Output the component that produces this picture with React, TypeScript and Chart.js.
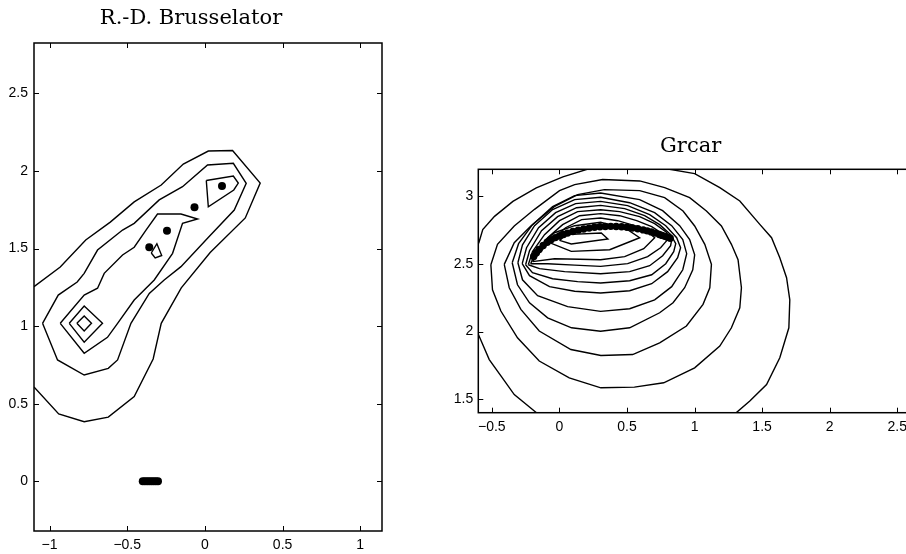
import React, { useEffect, useRef } from 'react';
import { Chart, registerables } from 'chart.js';

Chart.register(...registerables);

type P = [number, number];

// ---------- Left panel: R.-D. Brusselator ----------
const BR_X_TICKS = [-1, -0.5, 0, 0.5, 1];
const BR_Y_TICKS = [0, 0.5, 1, 1.5, 2, 2.5];

const BR_A: P[] = [
  [-1.1, 1.254], [-0.931, 1.381], [-0.767, 1.555], [-0.609, 1.67], [-0.455, 1.8],
  [-0.281, 1.909], [-0.139, 2.044], [0.022, 2.128], [0.178, 2.131], [0.356, 1.922],
  [0.26, 1.697], [0.034, 1.474], [-0.152, 1.246], [-0.281, 1.018], [-0.333, 0.788],
  [-0.455, 0.546], [-0.622, 0.414], [-0.777, 0.384], [-0.941, 0.434], [-1.1, 0.608],
];
const BR_B: P[] = [
  [-1.045, 1.018], [-0.944, 1.2], [-0.822, 1.284], [-0.777, 1.34], [-0.691, 1.49],
  [-0.53, 1.619], [-0.455, 1.662], [-0.294, 1.813], [-0.144, 1.898], [0.017, 2.038],
  [0.183, 2.049], [0.266, 1.92], [0.189, 1.748], [0.017, 1.566], [-0.154, 1.383],
  [-0.262, 1.297], [-0.358, 1.211], [-0.476, 1.018], [-0.562, 0.782], [-0.622, 0.728],
  [-0.777, 0.685], [-0.9485, 0.782], [-1.045, 1.018],
];
const BR_C: P[] = [
  [-0.931, 1.018], [-0.777, 1.2], [-0.691, 1.244], [-0.648, 1.34], [-0.53, 1.458],
  [-0.455, 1.508], [-0.379, 1.619], [-0.305, 1.722], [-0.154, 1.722], [-0.047, 1.69],
  [-0.144, 1.662], [-0.208, 1.469], [-0.326, 1.297], [-0.455, 1.168], [-0.562, 1.018],
  [-0.627, 0.928], [-0.777, 0.825], [-0.931, 1.018],
];
const BR_M: P[] = [[-0.873, 1.018], [-0.777, 1.13], [-0.659, 1.018], [-0.777, 0.896], [-0.873, 1.018]];
const BR_I: P[] = [[-0.824, 1.018], [-0.777, 1.065], [-0.73, 1.018], [-0.777, 0.968], [-0.824, 1.018]];
const BR_D: P[] = [[0.009, 1.938], [0.183, 1.967], [0.215, 1.922], [0.186, 1.877], [0.022, 1.769], [0.009, 1.938]];
const BR_E: P[] = [[-0.345, 1.471], [-0.309, 1.531], [-0.278, 1.455], [-0.32, 1.439], [-0.345, 1.471]];

const BR_DOT_X = [-0.358, -0.244, -0.067, 0.11];
const BR_DOT_Y = [1.508, 1.615, 1.765, 1.903];
const BR_ZERO_X = [-0.4, -0.386, -0.372, -0.358, -0.344, -0.33, -0.316, -0.302];
const BR_ZERO_Y = [0, 0, 0, 0, 0, 0, 0, 0];

// ---------- Right panel: Grcar ----------
const GR_X_TICKS = [-0.5, 0, 0.5, 1, 1.5, 2, 2.5];
const GR_Y_TICKS = [1.5, 2, 2.5, 3];

const GR_1: P[] = [
  [-0.665, 2.517], [-0.596, 2.657], [-0.567, 2.754], [-0.48, 2.852], [-0.344, 2.963],
  [-0.171, 3.062], [0.026, 3.144], [0.199, 3.198], [0.372, 3.249], [0.594, 3.257],
  [0.816, 3.2], [1.001, 3.168], [1.187, 3.064], [1.335, 2.966], [1.483, 2.793],
  [1.57, 2.694], [1.631, 2.546], [1.681, 2.398], [1.705, 2.235], [1.698, 2.028],
  [1.631, 1.806], [1.533, 1.608], [1.409, 1.486], [1.31, 1.401], [1.224, 1.318],
  [-0.073, 1.318], [-0.174, 1.403], [-0.334, 1.534], [-0.43, 1.668], [-0.519, 1.793],
  [-0.604, 1.989], [-0.665, 2.124], [-0.665, 2.517],
];
const GR_2: P[] = [
  [-0.507, 2.494], [-0.495, 2.309], [-0.433, 2.152], [-0.31, 1.954], [-0.149, 1.782],
  [0.073, 1.658], [0.307, 1.584], [0.555, 1.589], [0.772, 1.621], [1.001, 1.732],
  [1.187, 1.893], [1.273, 2.028], [1.335, 2.176], [1.347, 2.324], [1.322, 2.531],
  [1.273, 2.645], [1.199, 2.781], [1.088, 2.892], [0.964, 2.99], [0.779, 3.064],
  [0.594, 3.114], [0.32, 3.124], [0.113, 3.087], [0.001, 3.042], [-0.184, 2.904],
  [-0.334, 2.781], [-0.458, 2.645], [-0.507, 2.494],
];
const GR_3: P[] = [
  [-0.408, 2.497], [-0.371, 2.324], [-0.285, 2.164], [-0.149, 2.004], [0.085, 1.867],
  [0.307, 1.823], [0.542, 1.83], [0.742, 1.917], [0.94, 2.041], [1.063, 2.201],
  [1.113, 2.324], [1.125, 2.497], [1.076, 2.645], [1.001, 2.781], [0.915, 2.892],
  [0.779, 2.99], [0.594, 3.042], [0.333, 3.05], [0.135, 3.013], [-0.038, 2.924],
  [-0.211, 2.781], [-0.334, 2.657], [-0.408, 2.497],
];
const GR_4: P[] = [
  [-0.349, 2.509], [-0.31, 2.346], [-0.221, 2.213], [-0.087, 2.102], [0.09, 2.028],
  [0.305, 2.002], [0.52, 2.028], [0.742, 2.139], [0.841, 2.213], [0.927, 2.324],
  [0.987, 2.457], [1.001, 2.568], [0.964, 2.68], [0.89, 2.783], [0.764, 2.894],
  [0.594, 2.976], [0.305, 3.025], [0.113, 3.005], [-0.05, 2.924], [-0.199, 2.791],
  [-0.302, 2.65], [-0.349, 2.509],
];
const GR_5: P[] = [
  [-0.307, 2.509], [-0.273, 2.383], [-0.161, 2.265], [0.061, 2.184], [0.305, 2.149],
  [0.52, 2.169], [0.705, 2.235], [0.831, 2.332], [0.913, 2.457], [0.942, 2.576],
  [0.913, 2.68], [0.831, 2.783], [0.705, 2.879], [0.52, 2.953], [0.305, 2.993],
  [0.113, 2.976], [-0.05, 2.902], [-0.184, 2.783], [-0.273, 2.642], [-0.307, 2.509],
];
const GR_6: P[] = [
  [-0.275, 2.502], [-0.221, 2.413], [-0.073, 2.332], [0.113, 2.298], [0.305, 2.285],
  [0.52, 2.302], [0.683, 2.354], [0.801, 2.443], [0.875, 2.546], [0.897, 2.62],
  [0.868, 2.694], [0.787, 2.783], [0.668, 2.865], [0.505, 2.931], [0.305, 2.963],
  [0.12, 2.946], [-0.028, 2.879], [-0.154, 2.768], [-0.243, 2.62], [-0.275, 2.502],
];
const GR_7: P[] = [
  [-0.25, 2.494], [-0.199, 2.435], [-0.05, 2.391], [0.135, 2.369], [0.305, 2.359],
  [0.52, 2.376], [0.683, 2.42], [0.787, 2.502], [0.846, 2.591], [0.861, 2.65],
  [0.824, 2.717], [0.742, 2.791], [0.631, 2.857], [0.483, 2.909], [0.305, 2.933],
  [0.127, 2.916], [-0.013, 2.85], [-0.132, 2.746], [-0.221, 2.598], [-0.25, 2.494],
];
const GR_8: P[] = [
  [-0.23, 2.494], [-0.147, 2.465], [0.039, 2.443], [0.305, 2.428], [0.52, 2.443],
  [0.668, 2.487], [0.764, 2.561], [0.823, 2.635], [0.831, 2.68], [0.787, 2.739],
  [0.705, 2.798], [0.594, 2.85], [0.446, 2.887], [0.305, 2.901], [0.135, 2.887],
  [0.001, 2.82], [-0.11, 2.717], [-0.199, 2.591], [-0.23, 2.494],
];
const GR_9: P[] = [
  [-0.213, 2.502], [-0.087, 2.502], [0.113, 2.491], [0.305, 2.482], [0.505, 2.502],
  [0.653, 2.554], [0.749, 2.62], [0.801, 2.68], [0.764, 2.724], [0.683, 2.776],
  [0.572, 2.82], [0.446, 2.857], [0.305, 2.872], [0.15, 2.857], [0.024, 2.791],
  [-0.087, 2.694], [-0.176, 2.583], [-0.213, 2.502],
];
const GR_10: P[] = [
  [-0.199, 2.517], [-0.036, 2.539], [0.15, 2.535], [0.305, 2.531], [0.483, 2.554],
  [0.624, 2.613], [0.705, 2.694], [0.653, 2.739], [0.557, 2.783], [0.431, 2.82],
  [0.305, 2.84], [0.165, 2.828], [0.046, 2.768], [-0.058, 2.68], [-0.147, 2.583],
  [-0.199, 2.517],
];
const GR_11: P[] = [
  [-0.11, 2.672], [0.088, 2.593], [0.372, 2.605], [0.594, 2.694], [0.505, 2.754],
  [0.305, 2.808], [0.113, 2.783], [-0.036, 2.731], [-0.11, 2.672],
];
const GR_12: P[] = [[0.001, 2.674], [0.088, 2.648], [0.359, 2.685], [0.31, 2.729], [0.051, 2.717], [0.001, 2.674]];

const GR_DOT_X = [
  -0.19, -0.17, -0.15, -0.12, -0.09, -0.06, -0.03, 0.0, 0.03, 0.06, 0.1, 0.14, 0.18, 0.22, 0.26, 0.3,
  0.34, 0.38, 0.42, 0.46, 0.5, 0.54, 0.58, 0.62, 0.65, 0.68, 0.71, 0.74, 0.76, 0.78, 0.8, 0.82,
];
const GR_DOT_Y = [
  2.556, 2.583, 2.607, 2.637, 2.661, 2.68, 2.695, 2.707, 2.718, 2.728, 2.74, 2.75, 2.758, 2.765, 2.771, 2.775,
  2.777, 2.778, 2.777, 2.775, 2.771, 2.766, 2.76, 2.752, 2.745, 2.737, 2.728, 2.718, 2.711, 2.704, 2.697, 2.69,
];

// ---------- helpers ----------
const toPts = (a: P[]) => a.map(([x, y]) => ({ x, y }));
const zipPts = (xs: number[], ys: number[]) => xs.map((x, i) => ({ x, y: ys[i] }));

const fmt = (v: number | string) => {
  const n = Number(v);
  return n < 0 ? '\u2212' + String(Math.abs(n)) : String(n);
};

const boxTicks = {
  id: 'boxTicks',
  afterDraw(chart: any) {
    const { ctx, chartArea: a, scales } = chart;
    const xs = scales.x;
    const ys = scales.y;
    const L = 5;
    ctx.save();
    ctx.strokeStyle = '#000';
    ctx.lineWidth = 1;
    ctx.beginPath();
    xs.ticks.forEach((t: any) => {
      const p = Math.round(xs.getPixelForValue(t.value)) + 0.5;
      ctx.moveTo(p, a.bottom);
      ctx.lineTo(p, a.bottom - L);
      ctx.moveTo(p, a.top);
      ctx.lineTo(p, a.top + L);
    });
    ys.ticks.forEach((t: any) => {
      const p = Math.round(ys.getPixelForValue(t.value)) + 0.5;
      ctx.moveTo(a.left, p);
      ctx.lineTo(a.left + L, p);
      ctx.moveTo(a.right, p);
      ctx.lineTo(a.right - L, p);
    });
    ctx.stroke();
    ctx.lineWidth = 1.5;
    ctx.strokeRect(a.left, a.top, a.right - a.left, a.bottom - a.top);
    ctx.restore();
  },
};

const lineDs = (a: P[]) => ({
  data: toPts(a),
  showLine: true,
  borderColor: '#000',
  borderWidth: 1.4,
  pointRadius: 0,
  fill: false,
  tension: 0,
});

const dotDs = (xs: number[], ys: number[], r: number) => ({
  data: zipPts(xs, ys),
  showLine: false,
  pointRadius: r,
  pointBackgroundColor: '#000',
  pointBorderColor: '#000',
  pointBorderWidth: 0,
});

interface Cfg {
  title: string;
  xMin: number; xMax: number; yMin: number; yMax: number;
  xTicks: number[]; yTicks: number[];
  yAxisWidth: number; padRight: number; padBottom: number;
  titlePadTop: number; titlePadBottom: number; yLabelPad: number;
}

function buildOptions(o: Cfg): any {
  const tickFont = { family: '"Liberation Sans", Arial, sans-serif', size: 14 };
  return {
    responsive: false,
    animation: false,
    devicePixelRatio: 1,
    events: [],
    layout: { padding: { left: 0, top: 0, right: o.padRight, bottom: o.padBottom } },
    plugins: {
      legend: { display: false },
      tooltip: { enabled: false },
      title: {
        display: true,
        text: o.title,
        color: '#000',
        font: { family: '"DejaVu Serif", serif', size: 21, weight: 'normal', lineHeight: 1.2 },
        padding: { top: o.titlePadTop, bottom: o.titlePadBottom },
      },
    },
    scales: {
      x: {
        type: 'linear',
        min: o.xMin,
        max: o.xMax,
        grid: { display: false, drawTicks: false },
        border: { display: false },
        ticks: { color: '#000', font: tickFont, padding: 6, maxRotation: 0, autoSkip: false, includeBounds: false, callback: fmt },
        afterBuildTicks: (s: any) => { s.ticks = o.xTicks.map((v) => ({ value: v })); },
        afterFit: (s: any) => { s.height = 23; },
      },
      y: {
        type: 'linear',
        min: o.yMin,
        max: o.yMax,
        grid: { display: false, drawTicks: false },
        border: { display: false },
        ticks: { color: '#000', font: tickFont, padding: o.yLabelPad, autoSkip: false, includeBounds: false, callback: fmt },
        afterBuildTicks: (s: any) => { s.ticks = o.yTicks.map((v) => ({ value: v })); },
        afterFit: (s: any) => { s.width = o.yAxisWidth; },
      },
    },
  };
}

export default function App() {
  const leftRef = useRef<HTMLCanvasElement>(null);
  const rightRef = useRef<HTMLCanvasElement>(null);

  useEffect(() => {
    const left = new Chart(leftRef.current as HTMLCanvasElement, {
      type: 'scatter',
      data: {
        datasets: [
          dotDs(BR_DOT_X, BR_DOT_Y, 4),
          dotDs(BR_ZERO_X, BR_ZERO_Y, 4),
          lineDs(BR_A), lineDs(BR_B), lineDs(BR_C), lineDs(BR_M), lineDs(BR_I), lineDs(BR_D), lineDs(BR_E),
        ] as any,
      },
      options: buildOptions({
        title: 'R.-D. Brusselator',
        xMin: -1.1, xMax: 1.14, yMin: -0.32, yMax: 2.824,
        xTicks: BR_X_TICKS, yTicks: BR_Y_TICKS,
        yAxisWidth: 34, padRight: 18, padBottom: 0,
        titlePadTop: 6, titlePadBottom: 11.8, yLabelPad: 6,
      }),
      plugins: [boxTicks],
    });

    const right = new Chart(rightRef.current as HTMLCanvasElement, {
      type: 'scatter',
      data: {
        datasets: [
          dotDs(GR_DOT_X, GR_DOT_Y, 3.7),
          lineDs(GR_1), lineDs(GR_2), lineDs(GR_3), lineDs(GR_4), lineDs(GR_5), lineDs(GR_6),
          lineDs(GR_7), lineDs(GR_8), lineDs(GR_9), lineDs(GR_10), lineDs(GR_11), lineDs(GR_12),
        ] as any,
      },
      options: buildOptions({
        title: 'Grcar',
        xMin: -0.6, xMax: 2.9, yMin: 1.4, yMax: 3.2,
        xTicks: GR_X_TICKS, yTicks: GR_Y_TICKS,
        yAxisWidth: 48.3, padRight: 8.7, padBottom: 118.3,
        titlePadTop: 134.4, titlePadBottom: 9.7, yLabelPad: 5,
      }),
      plugins: [boxTicks],
    });

    return () => {
      left.destroy();
      right.destroy();
    };
  }, []);

  return (
    <div style={{ position: 'fixed', left: 0, top: 0, width: 906, height: 554, overflow: 'hidden', background: '#fff' }}>
      <canvas ref={leftRef} width={400} height={554} style={{ position: 'absolute', left: 0, top: 0, width: 400, height: 554 }} />
      <canvas ref={rightRef} width={530} height={554} style={{ position: 'absolute', left: 430, top: 0, width: 530, height: 554 }} />
    </div>
  );
}
